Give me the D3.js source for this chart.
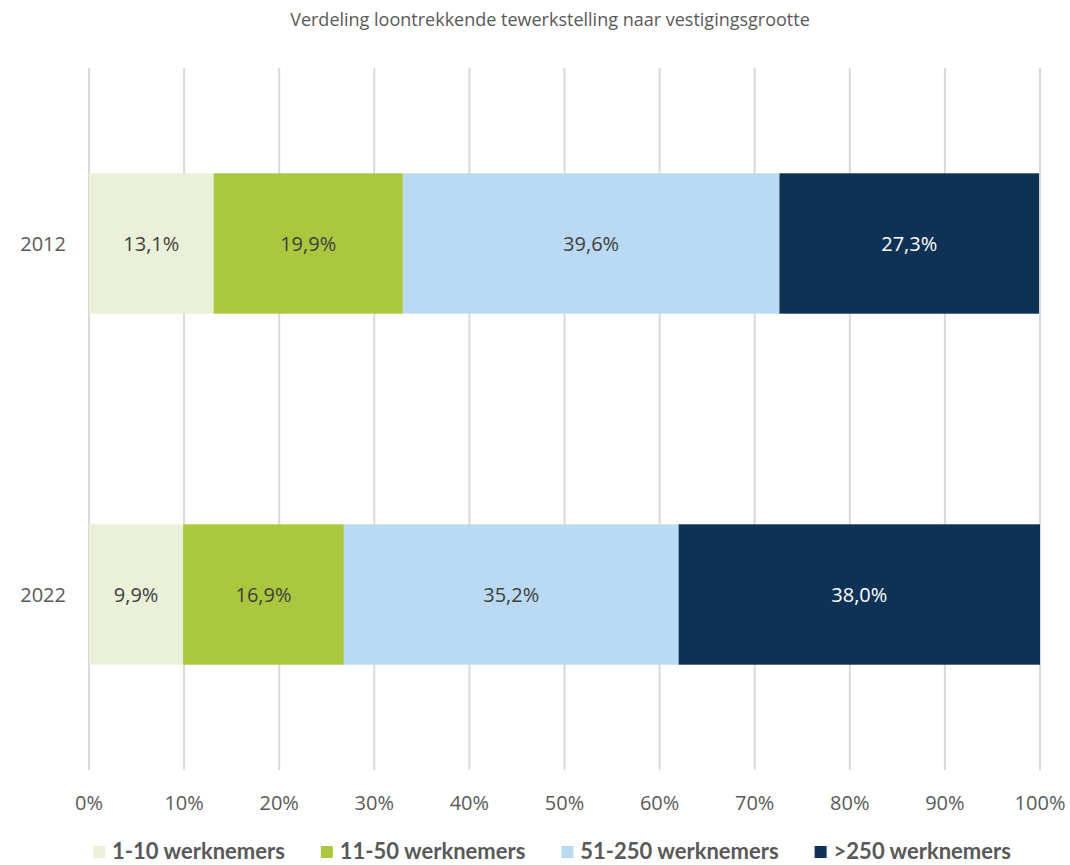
<!DOCTYPE html>
<html>
<head>
<meta charset="UTF-8">
<title>Verdeling loontrekkende tewerkstelling</title>
<script src="https://cdn.jsdelivr.net/npm/d3@7"></script>
<style>
  body { margin: 0; background: #fff; }
  text { font-family: "Open Sans", "Noto Sans", sans-serif; fill: #595959; }
</style>
</head>
<body>
<svg id="chart" width="1070" height="865"></svg>
<script>
// data
var years = ["2012", "2022"];
var groups = ["1-10 werknemers", "11-50 werknemers", "51-250 werknemers", ">250 werknemers"];
var values2012 = [13.1, 19.9, 39.6, 27.3];
var values2022 = [9.9, 16.9, 35.2, 38.0];
var colors = ["#ebf1d8", "#abc73f", "#badaf3", "#0e3255"];
var labelColors = ["#404040", "#404040", "#404040", "#ffffff"];
var ticks = [0, 10, 20, 30, 40, 50, 60, 70, 80, 90, 100];

var svg = d3.select("#chart");
var plotL = 89, plotR = 1040, plotT = 68, plotB = 770;

var x = d3.scaleLinear().domain([0, 100]).range([plotL, plotR]);
var y = d3.scaleBand().domain(years).range([plotT, plotB]).paddingInner(0.6).paddingOuter(0.3);

// title
svg.append("text")
  .attr("x", 550).attr("y", 26)
  .attr("text-anchor", "middle")
  .style("font-size", "18px")
  .text("Verdeling loontrekkende tewerkstelling naar vestigingsgrootte");

// gridlines
svg.append("g").selectAll("line").data(ticks).join("line")
  .attr("x1", d => x(d)).attr("x2", d => x(d))
  .attr("y1", plotT).attr("y2", plotB)
  .attr("stroke", "#d9d9d9").attr("stroke-width", 2);

// tick labels
svg.append("g").selectAll("text").data(ticks).join("text")
  .attr("x", d => x(d)).attr("y", 810)
  .attr("text-anchor", "middle")
  .style("font-size", "20px")
  .text(d => d + "%");

// stacked segments
var rows = years.map(function (yr, i) {
  var vals = i === 0 ? values2012 : values2022;
  var acc = 0;
  return vals.map(function (v, j) {
    var s = { year: yr, idx: j, v: v, x0: acc, x1: acc + v };
    acc += v;
    return s;
  });
});
var segs = rows.flat();

svg.append("g").selectAll("rect").data(segs).join("rect")
  .attr("x", d => x(d.x0))
  .attr("width", d => Math.min(x(d.x1), plotR) - x(d.x0))
  .attr("y", d => y(d.year))
  .attr("height", y.bandwidth())
  .attr("fill", d => colors[d.idx]);

svg.append("g").selectAll("text").data(segs).join("text")
  .attr("x", d => (x(d.x0) + Math.min(x(d.x1), plotR)) / 2)
  .attr("y", d => y(d.year) + y.bandwidth() / 2)
  .attr("dy", "0.35em")
  .attr("text-anchor", "middle")
  .style("font-size", "20px")
  .style("fill", d => labelColors[d.idx])
  .text(d => d.v.toFixed(1).replace(".", ",") + "%");

// category labels
svg.append("g").selectAll("text").data(years).join("text")
  .attr("x", 66).attr("y", d => y(d) + y.bandwidth() / 2)
  .attr("dy", "0.35em")
  .attr("text-anchor", "end")
  .style("font-size", "20px")
  .text(d => d);

// legend
var legend = svg.append("g");
var items = legend.selectAll("g").data(groups).join("g");
items.append("rect")
  .attr("width", 12).attr("height", 12)
  .attr("y", -13)
  .attr("fill", (d, i) => colors[i]);
items.append("text")
  .attr("x", 19)
  .style("font-family", "Lato, sans-serif")
  .style("font-weight", "bold")
  .style("font-size", "22px")
  .text(d => d);
var offs = 0, gap = 36, widths = [];
items.each(function () { widths.push(this.getBBox().width); });
var total = d3.sum(widths) + gap * (groups.length - 1);
var start = 552 - total / 2;
items.attr("transform", function (d, i) {
  var t = "translate(" + (start + offs) + ",859)";
  offs += widths[i] + gap;
  return t;
});
</script>
</body>
</html>
